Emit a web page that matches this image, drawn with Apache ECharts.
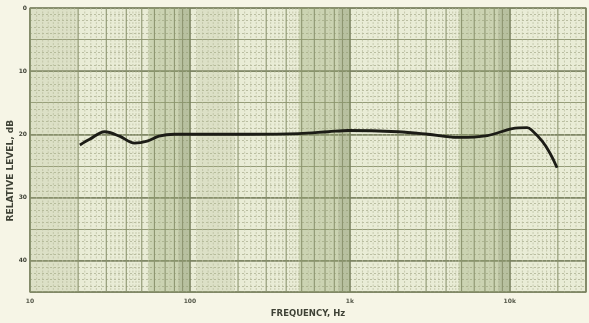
<!DOCTYPE html>
<html>
<head>
<meta charset="UTF-8">
<title>Frequency response</title>
<script src="https://cdn.jsdelivr.net/npm/echarts@6/dist/echarts.min.js"></script>
<style>
    html, body { margin: 0; padding: 0; background: #f6f5e6; }
    #main { width: 589px; height: 323px; }
</style>
</head>
<body>
<div id="main"></div>
<script type="text/javascript">
    // response curve
    var freqHz  = [20.5, 23.6, 29.3, 36.3, 45, 54, 64, 80, 99, 233, 478, 734, 977, 2000, 3075, 4720, 7260, 10380, 12850, 13800, 15960, 17870, 19770];
    var levelDb = [21.7, 20.8, 19.6, 20.3, 21.4, 21.1, 20.3, 20.0, 20.0, 20.0, 19.9, 19.6, 19.4, 19.6, 20.0, 20.5, 20.2, 19.1, 18.95, 19.4, 21.1, 23.0, 25.3];

    var yTicks = [0, 10, 20, 30, 40];
    var xTickLabels = { 10: '10', 100: '100', 1000: '1k', 10000: '10k' };

    // shaded bands on the chart paper (Hz)
    var darkBands = [[55, 100], [480, 1000], [4800, 10000]];
    var darkerStrips = [[85, 100], [850, 1000], [8500, 10000]];
    var midBands = [[10, 20], [110, 190]];

    // vertical rulings of the log paper
    var gridFreqs = [];
    [10, 100, 1000, 10000].forEach(function (d) {
        var m;
        for (m = 1.1; m < 2; m += 0.1) gridFreqs.push([+(d * m).toFixed(3), 0]);
        for (m = 2; m < 5; m += 0.2) gridFreqs.push([+(d * m).toFixed(3), Math.abs(m - Math.round(m)) < 1e-6 ? 1 : 0]);
        for (m = 5; m < 10; m += 0.5) gridFreqs.push([+(d * m).toFixed(3), Math.abs(m - Math.round(m)) < 1e-6 ? 1 : 0]);
    });
    gridFreqs = gridFreqs.filter(function (g) { return g[0] < 30000; });

    var curve = freqHz.map(function (f, i) { return [f, levelDb[i]]; });

    function bandPairs(list, color) {
        return list.map(function (b) {
            return [{ xAxis: b[0], itemStyle: { color: color } }, { xAxis: b[1] }];
        });
    }

    var myChart = echarts.init(document.getElementById('main'));

    var option = {
        backgroundColor: '#f6f5e6',
        animation: false,
        grid: {
            left: 30, right: 0, top: 8, bottom: 23,
            show: true,
            backgroundColor: '#e9ecd6',
            borderColor: '#7e8562',
            borderWidth: 1.2
        },
        xAxis: {
            type: 'log',
            logBase: 10,
            min: 10,
            max: 30000,
            axisLine: { show: false },
            axisTick: { show: false },
            axisLabel: {
                margin: 6,
                fontSize: 6,
                fontWeight: 'bold',
                color: '#55584a',
                fontFamily: 'DejaVu Sans',
                formatter: function (v) { return xTickLabels[Math.round(v)] || ''; }
            },
            splitLine: { show: true, lineStyle: { color: '#7a8260', width: 1.6 } },
            name: 'FREQUENCY, Hz',
            nameLocation: 'middle',
            nameGap: 14,
            nameTextStyle: { fontSize: 8.5, fontWeight: 'bold', color: '#3f4236', fontFamily: 'DejaVu Sans' }
        },
        yAxis: [{
            type: 'value',
            inverse: true,
            min: 0,
            max: 45,
            interval: 5,
            axisLine: { show: false },
            axisTick: { show: false },
            axisLabel: {
                margin: 3,
                fontSize: 6,
                fontWeight: 'bold',
                color: '#3f4236',
                fontFamily: 'DejaVu Sans',
                formatter: function (v) { return yTicks.indexOf(v) >= 0 ? String(v) : ''; }
            },
            splitLine: { show: true, lineStyle: { color: '#959c78', width: 1 } },
            minorTick: { show: false, splitNumber: 5 },
            minorSplitLine: { show: true, lineStyle: { color: '#aeb393', width: 0.8, type: [2, 2] } }
        }, {
            type: 'value',
            inverse: true,
            min: 0,
            max: 45,
            interval: 10,
            axisLine: { show: false },
            axisTick: { show: false },
            axisLabel: { show: false },
            splitLine: { show: true, lineStyle: { color: '#7a8260', width: 1.5 } }
        }],
        graphic: [{
            type: 'text',
            left: 6,
            top: 120,
            rotation: Math.PI / 2,
            style: {
                text: 'RELATIVE LEVEL, dB',
                fontSize: 9,
                fontWeight: 'bold',
                fill: '#3f4236',
                fontFamily: 'DejaVu Sans'
            }
        }],
        series: [{
            type: 'line',
            data: [],
            z: 0,
            silent: true,
            markArea: {
                silent: true,
                data: bandPairs(darkBands, 'rgba(150,165,115,0.36)')
                    .concat(bandPairs(darkerStrips, 'rgba(120,130,95,0.22)'))
                    .concat(bandPairs(midBands, 'rgba(170,180,135,0.2)'))
            }
        }, {
            type: 'custom',
            z: 1,
            silent: true,
            data: gridFreqs,
            encode: { x: 0 },
            renderItem: function (params, api) {
                var f = api.value(0);
                var top = api.coord([f, 0]);
                var bot = api.coord([f, 45]);
                var major = api.value(1) === 1;
                return {
                    type: 'line',
                    shape: { x1: top[0], y1: top[1], x2: bot[0], y2: bot[1] },
                    style: {
                        stroke: major ? '#8d9570' : '#b7bc9d',
                        lineWidth: major ? 1.1 : 0.7,
                        lineDash: major ? null : [2, 1.5]
                    }
                };
            }
        }, {
            type: 'line',
            z: 5,
            data: curve,
            smooth: 0.35,
            symbol: 'none',
            lineStyle: { color: '#1c1c16', width: 2.8 }
        }]
    };
    myChart.setOption(option);
</script>
</body>
</html>
